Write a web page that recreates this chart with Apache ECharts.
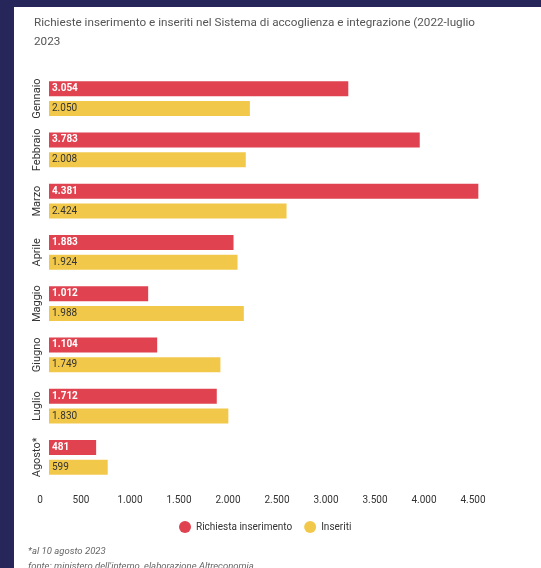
<!DOCTYPE html>
<html><head><meta charset="utf-8">
<script src="https://cdn.jsdelivr.net/npm/echarts@6/dist/echarts.min.js"></script>
<style>
html,body{margin:0;padding:0;background:#27265b;width:541px;height:568px;overflow:hidden;}
#chart{position:absolute;left:14px;top:7px;width:527px;height:561px;background:#fff;}
</style></head>
<body><div id="chart"></div>
<script>
const categories = ['Gennaio','Febbraio','Marzo','Aprile','Maggio','Giugno','Luglio','Agosto*'];
const richieste = [3054, 3783, 4381, 1883, 1012, 1104, 1712, 481];
const inseriti = [2050, 2008, 2424, 1924, 1988, 1749, 1830, 599];
const xTicks = [0, 500, 1000, 1500, 2000, 2500, 3000, 3500, 4000, 4500];
const seriesNames = ['Richiesta inserimento', 'Inseriti'];
const titleText = 'Richieste inserimento e inseriti nel Sistema di accoglienza e integrazione (2022-luglio\n2023';
const note1 = '*al 10 agosto 2023';
const note2 = "fonte: ministero dell'interno, elaborazione Altreconomia";

const fmt = v => String(v).replace(/\B(?=(\d{3})+(?!\d))/g, '.');
const FONT = 'Roboto';
const chart = echarts.init(document.getElementById('chart'));
chart.setOption({
  animation: false,
  textStyle: { fontFamily: FONT },
  title: {
    text: titleText, left: 15, top: 2,
    textStyle: { fontFamily: FONT, fontSize: 11.7, fontWeight: 'normal', color: '#555', lineHeight: 19 }
  },
  legend: {
    data: seriesNames, top: 509, left: 160, icon: 'circle',
    itemWidth: 12, itemHeight: 12, itemGap: 12,
    textStyle: { fontFamily: FONT, fontSize: 10, color: '#333' }
  },
  graphic: [
    { type: 'text', left: 14, top: 540, style: { text: note1, font: 'italic 9.5px ' + FONT, fill: '#666' } },
    { type: 'text', left: 14, top: 555, style: { text: note2, font: 'italic 9.5px ' + FONT, fill: '#666' } }
  ],
  grid: { left: 35, right: 51, top: 66, height: 410, containLabel: false },
  xAxis: {
    type: 'value', min: xTicks[0], max: xTicks[xTicks.length - 1], interval: 500,
    axisLine: { show: false }, axisTick: { show: false }, splitLine: { show: false },
    axisLabel: {
      margin: 12, color: '#333', fontFamily: FONT, fontSize: 10,
      formatter: v => v === 0 ? '{z|0}' : '{a|' + fmt(v) + '}',
      rich: { a: { padding: [0, 34, 0, 0], fontSize: 10, color: '#333' }, z: { padding: [0, 18, 0, 0], fontSize: 10, color: '#333' } }
    }
  },
  yAxis: {
    type: 'category', data: categories, inverse: true,
    axisLine: { show: false }, axisTick: { show: false },
    axisLabel: { interval: 0, rotate: 90, margin: 6, color: '#333', fontFamily: FONT, fontSize: 11 }
  },
  series: [
    {
      name: seriesNames[0], type: 'bar', data: richieste, barWidth: 15, barGap: '33%',
      itemStyle: { color: '#e0434f' },
      label: { show: true, position: 'insideLeft', distance: 3, formatter: p => fmt(p.value),
        color: '#fff', fontWeight: 'bold', fontSize: 10, fontFamily: FONT }
    },
    {
      name: seriesNames[1], type: 'bar', data: inseriti, barWidth: 15,
      itemStyle: { color: '#f2c84b' },
      label: { show: true, position: 'insideLeft', distance: 3, formatter: p => fmt(p.value),
        color: '#333', fontWeight: 'normal', fontSize: 10, fontFamily: FONT }
    }
  ]
});
</script></body></html>
